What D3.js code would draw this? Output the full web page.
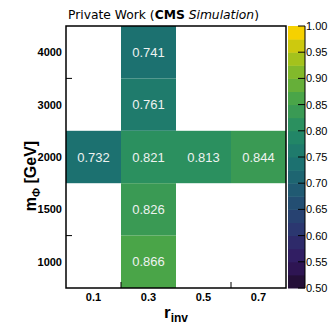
<!DOCTYPE html>
<html><head><meta charset="utf-8">
<script src="https://cdn.jsdelivr.net/npm/d3@7"></script>
<style>body{margin:0;background:#fff}svg{display:block}</style>
</head><body>
<svg id="c" width="328" height="325"></svg>
<script>
const xCategories = ["0.1","0.3","0.5","0.7"];
const yCategories = ["1000","1500","2000","3000","4000"];
const cellX = ["0.3","0.3","0.1","0.3","0.5","0.7","0.3","0.3"];
const cellY = ["4000","3000","2000","2000","2000","2000","1500","1000"];
const cellValues = [0.741,0.761,0.732,0.821,0.813,0.844,0.826,0.866];
const colorTicks = [0.50,0.55,0.60,0.65,0.70,0.75,0.80,0.85,0.90,0.95,1.00];
const colorDomain = [0.5, 1.0];
const nLevels = 20;
const paletteStops = ["#1a091e","#331860","#2b3770","#215472","#1c7170","#238b65","#4aa548","#90be23","#f6d100"];

const svg = d3.select("#c");
const L=66, R=286, T=26, B=288;
const x = d3.scaleBand().domain(xCategories).range([L,R]);
const y = d3.scaleBand().domain(yCategories).range([B,T]);
const pal = d3.scaleLinear().domain(d3.range(paletteStops.length).map(i=>i/(paletteStops.length-1))).range(paletteStops).interpolate(d3.interpolateRgb);
const lvl = d3.scaleLinear().domain(colorDomain).range([0,nLevels]);
function color(v){
  let i = Math.floor(lvl(v)); i = Math.max(0, Math.min(nLevels-1,i));
  return pal((i+0.99)/nLevels);
}
const cells = cellValues.map((v,i)=>({x:cellX[i],y:cellY[i],v}));
svg.selectAll("rect.cell").data(cells).join("rect")
  .attr("x",d=>x(d.x)).attr("y",d=>y(d.y))
  .attr("width",x.bandwidth()).attr("height",y.bandwidth())
  .attr("fill",d=>color(d.v));
svg.selectAll("text.val").data(cells).join("text")
  .attr("x",d=>x(d.x)+x.bandwidth()/2).attr("y",d=>y(d.y)+y.bandwidth()/2)
  .attr("dy","0.36em").attr("text-anchor","middle")
  .attr("font-family","Liberation Sans, Arial, sans-serif").attr("font-size",13)
  .attr("fill","#eef2f0").text(d=>d.v.toFixed(3));

// frame
svg.append("rect").attr("x",L).attr("y",T).attr("width",R-L).attr("height",B-T)
  .attr("fill","none").attr("stroke","#000").attr("stroke-width",1.5);

// ticks on bin boundaries
const xb = [1,3].map(i=>L + i*x.bandwidth());
svg.selectAll("line.xt").data(xb).join("line").attr("x1",d=>d).attr("x2",d=>d)
  .attr("y1",B).attr("y2",B-6).attr("stroke","#000").attr("stroke-width",1);
const yb = [1,4].map(i=>B - i*y.bandwidth());
svg.selectAll("line.yt").data(yb).join("line").attr("y1",d=>d).attr("y2",d=>d)
  .attr("x1",L).attr("x2",L+6).attr("stroke","#000").attr("stroke-width",1);

// tick labels
svg.selectAll("text.xl").data(xCategories).join("text")
  .attr("x",d=>x(d)+x.bandwidth()/2).attr("y",301).attr("text-anchor","middle")
  .attr("font-family","Liberation Sans, Arial, sans-serif").attr("font-weight","bold").attr("font-size",11)
  .text(d=>d);
svg.selectAll("text.yl").data(yCategories).join("text")
  .attr("x",62).attr("y",d=>y(d)+y.bandwidth()/2).attr("dy","0.36em").attr("text-anchor","end")
  .attr("font-family","Liberation Sans, Arial, sans-serif").attr("font-weight","bold").attr("font-size",11)
  .text(d=>d);

// axis titles
const xt = svg.append("text").attr("x",176).attr("y",318).attr("text-anchor","middle")
  .attr("font-family","Liberation Sans, Arial, sans-serif").attr("font-weight","bold").attr("font-size",17);
xt.append("tspan").text("r");
xt.append("tspan").attr("font-size",12).attr("dy",4).text("inv");
const yt = svg.append("text").attr("transform","translate(36,176) rotate(-90)").attr("text-anchor","middle")
  .attr("font-family","Liberation Sans, Arial, sans-serif").attr("font-weight","bold").attr("font-size",16);
yt.append("tspan").text("m");
yt.append("tspan").attr("font-size",11).attr("dy",4).text("\u03A6");
yt.append("tspan").attr("dy",-4).text(" [GeV]");

// title
const tt = svg.append("text").attr("x",68).attr("y",19)
  .attr("font-family","DejaVu Sans, sans-serif").attr("font-size",12.3).attr("fill","#000");
tt.append("tspan").text("Private Work (");
tt.append("tspan").attr("font-weight","bold").text("CMS");
tt.append("tspan").attr("font-style","italic").text(" Simulation");
tt.append("tspan").text(")");

// colorbar
const cbL=288, cbR=305;
const cy = d3.scaleLinear().domain(colorDomain).range([B,T]);
const bands = d3.range(nLevels).map(i=>colorDomain[0]+i*(colorDomain[1]-colorDomain[0])/nLevels);
const step = (colorDomain[1]-colorDomain[0])/nLevels;
svg.selectAll("rect.cb").data(bands).join("rect")
  .attr("x",cbL).attr("width",cbR-cbL)
  .attr("y",d=>cy(d+step)).attr("height",d=>cy(d)-cy(d+step)+0.5)
  .attr("fill",d=>color(d+step/2));
svg.append("line").attr("x1",cbR).attr("x2",cbR).attr("y1",T).attr("y2",B).attr("stroke","#000").attr("stroke-width",1);
svg.selectAll("line.ct").data(colorTicks).join("line")
  .attr("x1",cbR-7).attr("x2",cbR).attr("y1",d=>cy(d)).attr("y2",d=>cy(d)).attr("stroke","#000").attr("stroke-width",1);
svg.selectAll("text.cl").data(colorTicks).join("text")
  .attr("x",cbR+1).attr("y",d=>cy(d)).attr("dy","0.36em")
  .attr("font-family","Liberation Sans, Arial, sans-serif").attr("font-size",11)
  .text(d=>d.toFixed(2));
</script>
</body></html>
